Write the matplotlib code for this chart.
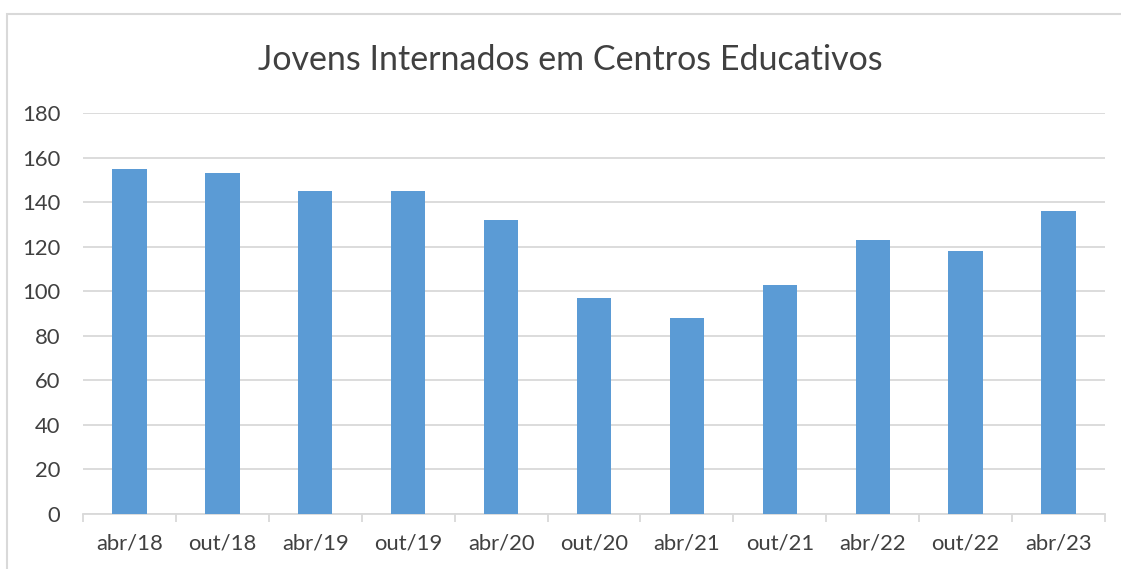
import matplotlib
matplotlib.use("Agg")
import matplotlib.pyplot as plt
from matplotlib.patches import Rectangle

categories = ["abr/18", "out/18", "abr/19", "out/19", "abr/20", "out/20",
              "abr/21", "out/21", "abr/22", "out/22", "abr/23"]
values = [155, 153, 145, 145, 132, 97, 88, 103, 123, 118, 136]
yticks = [0, 20, 40, 60, 80, 100, 120, 140, 160, 180]
title = "Jovens Internados em Centros Educativos"

plt.rcParams['font.family'] = ['Lato', 'DejaVu Sans']

W, H = 1121, 569
fig = plt.figure(figsize=(W / 100, H / 100), dpi=100)
fig.patch.set_facecolor("white")

# outer chart border
fig.add_artist(Rectangle((7 / W, -0.1), 1.2, (H - 14) / H + 0.1, transform=fig.transFigure,
                         fill=False, edgecolor="#d9d9d9", linewidth=1.5))

left, right, top, bottom = 83, 1105, 113, 514
ax = fig.add_axes([left / W, (H - bottom) / H, (right - left) / W, (bottom - top) / H])

x = list(range(len(categories)))
ax.bar(x, values, width=0.37, color="#5b9bd5", zorder=3)
ax.set_xlim(-0.5, len(categories) - 0.5)
ax.set_ylim(0, 180)
ax.set_yticks(yticks)
ax.set_yticklabels([str(v) for v in yticks])
ax.set_xticks(x)
ax.set_xticklabels(categories)
ax.grid(axis="y", color="#d9d9d9", linewidth=1.3, zorder=0)
for s in ["top", "right", "left"]:
    ax.spines[s].set_visible(False)
ax.spines["bottom"].set_color("#d9d9d9")
ax.spines["bottom"].set_linewidth(1.3)
ax.tick_params(axis="y", length=0, pad=16.5, labelsize=15.8, labelcolor="#404040")
ax.tick_params(axis="x", which="major", length=0, pad=14, labelsize=15.8, labelcolor="#404040")
ax.set_xticks([i - 0.5 for i in range(len(categories) + 1)], minor=True)
ax.tick_params(axis="x", which="minor", length=6, width=1.3, color="#d9d9d9")

fig.text(570 / W, (H - 70) / H, title, ha="center", va="baseline", fontsize=24.5, color="#404040")

fig.savefig("out.png", dpi=100, facecolor="white")
